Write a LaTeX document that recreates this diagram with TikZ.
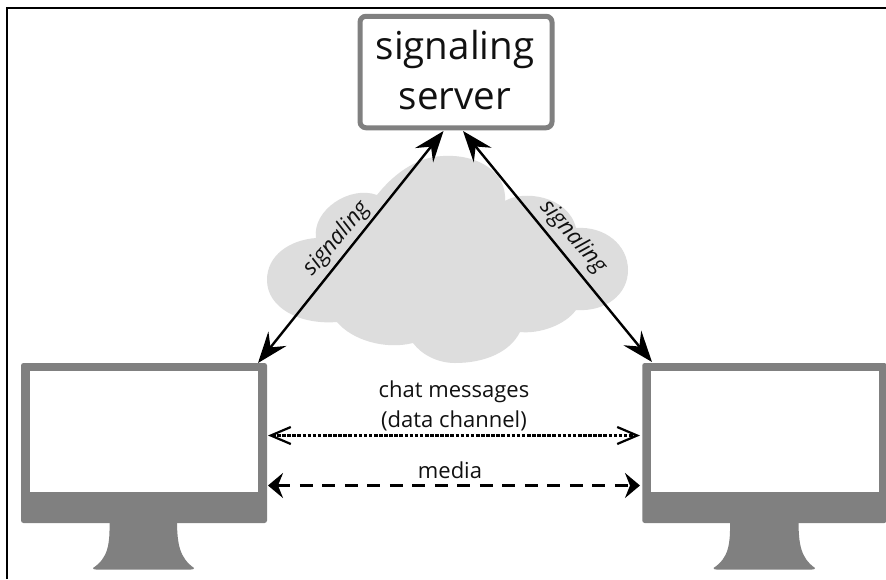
\documentclass[tikz,border=0pt]{standalone}
\usepackage{fontspec}
\setmainfont{Open Sans}
\usetikzlibrary{arrows.meta}
\definecolor{mongray}{HTML}{808080}
\definecolor{cloudgray}{HTML}{DDDDDD}
\definecolor{ink}{HTML}{111111}
\tikzset{
  mon/.style={fill=mongray,draw=none,rounded corners=2.5pt},
  scr/.style={fill=white,draw=none},
  solidlink/.style={draw=black,line width=2.4pt,{Stealth[length=31pt,width=23pt,inset=11pt]}-{Stealth[length=31pt,width=23pt,inset=11pt]}},
  dotlink/.style={draw=black,line width=2.2pt,dash pattern=on 3.6pt off 1.5pt,{Straight Barb[length=20pt,width=17pt,line width=2.2pt]}-{Straight Barb[length=20pt,width=17pt,line width=2.2pt]}},
  dashlink/.style={draw=black,line width=2.6pt,dash pattern=on 13pt off 9.5pt,{Stealth[length=15pt,width=25pt,inset=5pt]}-{Stealth[length=15pt,width=25pt,inset=5pt]}},
  biglabel/.style={text=ink,font=\fontsize{38.5}{50}\selectfont,align=center,inner sep=0pt},
  midlabel/.style={text=ink,font=\fontsize{22}{30}\selectfont,align=center,inner sep=0pt},
  slant/.style={text=ink,font=\fontsize{22.5}{26}\selectfont\itshape,inner sep=0pt},
}
\begin{document}
\begin{tikzpicture}[x=1pt,y=-1pt]
\useasboundingbox (0,0) rectangle (886,579);
\fill[white] (0,0) rectangle (886,579);
\draw[black,line width=1.5pt] (7,579) -- (7,8) -- (886,8);
% cloud
\fill[cloudgray] (443,156)
  .. controls (478,154) and (507,172) .. (505,201)
  .. controls (522,190) and (568,195) .. (576,228)
  .. controls (605,226) and (628,245) .. (628,270)
  .. controls (628,295) and (605,312) .. (576,310)
  .. controls (565,325) and (540,334) .. (520,332)
  .. controls (510,352) and (485,363) .. (455,363)
  .. controls (438,363) and (422,355) .. (413,343)
  .. controls (385,350) and (352,340) .. (337,322)
  .. controls (300,325) and (267,308) .. (267,280)
  .. controls (267,255) and (290,240) .. (316,238)
  .. controls (312,210) and (350,185) .. (377,195)
  .. controls (392,176) and (415,157) .. (443,156) -- cycle;
% server
\node[draw=mongray,line width=5pt,fill=white,rounded corners=6pt,minimum width=192pt,minimum height=111.5pt,inner sep=0pt] (server) at (456,72) {};
\node[biglabel] (servertext) at (455,70) {signaling\\server};
% monitors
\fill[mongray] (109.5,520) .. controls (110,545) and (108,558) .. (93,568) .. controls (93,569) and (94,569.5) .. (96,569.5) -- (191,569.5) .. controls (193,569.5) and (194,569) .. (194,568) .. controls (180,558) and (177,545) .. (177,520) -- cycle;
\fill[mongray] (730,520) .. controls (730.5,545) and (728.5,558) .. (713.5,568) .. controls (713.5,569) and (714.5,569.5) .. (716.5,569.5) -- (812,569.5) .. controls (814,569.5) and (815,569) .. (815,568) .. controls (801,558) and (798.5,545) .. (798.5,520) -- cycle;
\node[mon,minimum width=246pt,minimum height=160pt,inner sep=0pt] (monL) at (144,443) {};
\node[scr,minimum width=228pt,minimum height=121pt,inner sep=0pt] (scrL) at (144,431.5) {};
\node[mon,minimum width=244.5pt,minimum height=160pt,inner sep=0pt] (monR) at (764.5,443) {};
\node[scr,minimum width=228pt,minimum height=121pt,inner sep=0pt] (scrR) at (765,431.5) {};
% anchors
\coordinate (sa) at (443.5,131);
\coordinate (sb) at (463,131);
\coordinate (la) at (258,363);
\coordinate (ra) at (652,362);
\coordinate (d1) at (268,435.5);
\coordinate (d2) at (640,435.5);
\coordinate (m1) at (268,485.5);
\coordinate (m2) at (640,485.5);
\draw[solidlink] (la) -- (sa);
\draw[solidlink] (sb) -- (ra);
\draw[dotlink] (d1) -- (d2);
\draw[dashlink] (m1) -- (m2);
% labels
\node[slant,rotate=50] (sigL) at (337,239) {signaling};
\node[slant,rotate=-49] (sigR) at (573,237) {signaling};
\node[midlabel] (chat) at (454,406) {chat messages\\(data channel)};
\node[midlabel,anchor=base] (media) at (450,478) {media};
\end{tikzpicture}
\end{document}
